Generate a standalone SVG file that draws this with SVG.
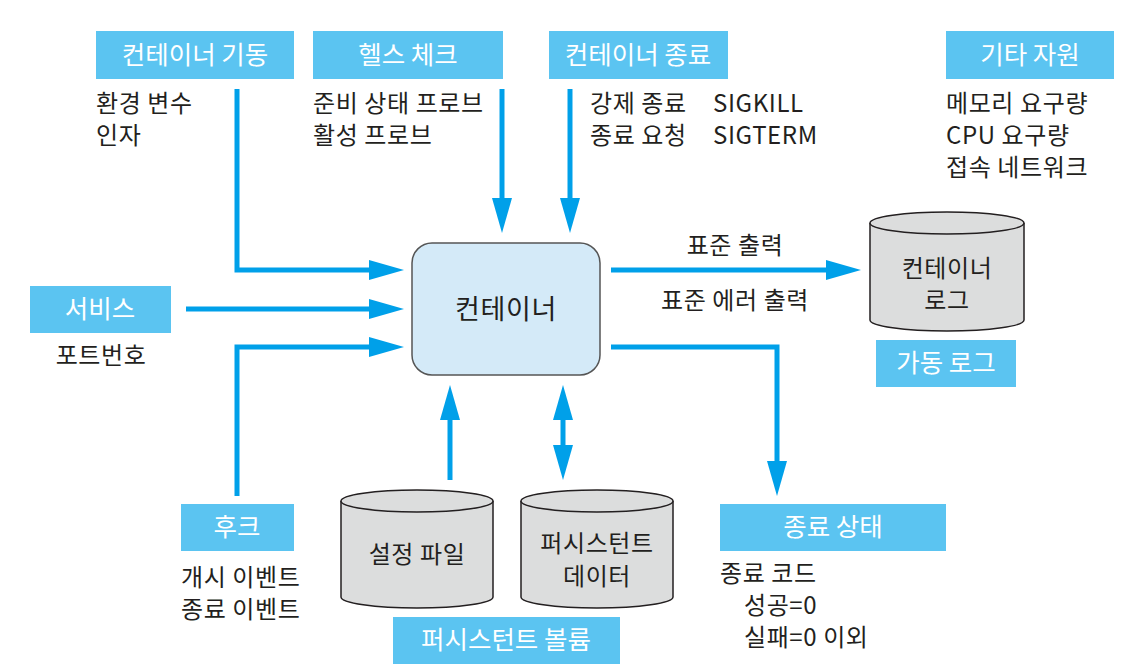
<svg xmlns="http://www.w3.org/2000/svg" width="1134" height="672" viewBox="0 0 1134 672">
  <defs>
    <style>
      .tag { fill: #5bc4f1; }
      .tagtxt { font-family: "Noto Sans CJK KR", "Noto Sans", sans-serif; font-size: 25.5px; fill: #ffffff; text-anchor: middle; }
      .txt { font-family: "Noto Sans CJK KR", "Noto Sans", sans-serif; font-size: 24px; letter-spacing: 0.6px; fill: #231f20; }
      .big { font-size: 27px; }
      .mid { text-anchor: middle; }
      .flow { fill: none; stroke: #00a0e9; stroke-width: 5; }
      .drum { fill: #dcdddd; stroke: #231f20; stroke-width: 1.5; }
    </style>
    <!-- arrowhead: base sits on the line end, tip extends 35px beyond it -->
    <marker id="head" viewBox="0 0 35 20" refX="0" refY="10" markerWidth="35" markerHeight="20" markerUnits="userSpaceOnUse" orient="auto-start-reverse">
      <path d="M0,0 L35,10 L0,20 Z" fill="#00a0e9"/>
    </marker>
  </defs>

  <rect width="1134" height="672" fill="#ffffff"/>

  <!-- connectors -->
  <g id="connectors">
    <path class="flow" d="M237,89 V270 H369" marker-end="url(#head)"/>
    <path class="flow" d="M186,309 H369" marker-end="url(#head)"/>
    <path class="flow" d="M237,496 V347 H369" marker-end="url(#head)"/>
    <path class="flow" d="M502,89 V198" marker-end="url(#head)"/>
    <path class="flow" d="M570,89 V198" marker-end="url(#head)"/>
    <path class="flow" d="M611,270 H826" marker-end="url(#head)"/>
    <path class="flow" d="M611,347 H777 V461" marker-end="url(#head)"/>
    <path class="flow" d="M450,480 V420" marker-end="url(#head)"/>
    <path class="flow" d="M563,445 V420" marker-start="url(#head)" marker-end="url(#head)"/>
  </g>

  <!-- central container -->
  <g id="container">
    <rect x="412" y="243" width="188" height="132" rx="20" fill="#d4eaf8" stroke="#555555" stroke-width="1.5"/>
    <text class="txt mid big" x="506" y="319">컨테이너</text>
  </g>

  <g id="startup">
    <rect class="tag" x="96" y="31" width="198" height="48"/>
    <text class="tagtxt" x="195" y="64">컨테이너 기동</text>
    <text class="txt" x="96" y="112">환경 변수</text>
    <text class="txt" x="96" y="144">인자</text>
  </g>

  <g id="health">
    <rect class="tag" x="313" y="31" width="190" height="48"/>
    <text class="tagtxt" x="408" y="64">헬스 체크</text>
    <text class="txt" x="313" y="112">준비 상태 프로브</text>
    <text class="txt" x="313" y="144">활성 프로브</text>
  </g>

  <g id="shutdown">
    <rect class="tag" x="549" y="31" width="179" height="48"/>
    <text class="tagtxt" x="638" y="64">컨테이너 종료</text>
    <text class="txt" x="590" y="112">강제 종료</text>
    <text class="txt" x="713" y="112">SIGKILL</text>
    <text class="txt" x="590" y="144">종료 요청</text>
    <text class="txt" x="713" y="144">SIGTERM</text>
  </g>

  <g id="resources">
    <rect class="tag" x="946" y="31" width="168" height="48"/>
    <text class="tagtxt" x="1030" y="64">기타 자원</text>
    <text class="txt" x="946" y="112">메모리 요구량</text>
    <text class="txt" x="946" y="144">CPU 요구량</text>
    <text class="txt" x="946" y="176">접속 네트워크</text>
  </g>

  <g id="service">
    <rect class="tag" x="30" y="286" width="141" height="47"/>
    <text class="tagtxt" x="100" y="318">서비스</text>
    <text class="txt mid" x="101" y="364">포트번호</text>
  </g>

  <g id="hook">
    <rect class="tag" x="181" y="504" width="113" height="47"/>
    <text class="tagtxt" x="237" y="536">후크</text>
    <text class="txt" x="181" y="586">개시 이벤트</text>
    <text class="txt" x="181" y="618">종료 이벤트</text>
  </g>

  <g id="container-log">
    <path class="drum" d="M870,223 V320 A77,11 0 0 0 1024,320 V223"/>
    <ellipse class="drum" cx="947" cy="223" rx="77" ry="11"/>
    <text class="txt mid" x="947" y="277">컨테이너</text>
    <text class="txt mid" x="947" y="309">로그</text>
  </g>

  <g id="runtime-log">
    <rect class="tag" x="876" y="340" width="140" height="47"/>
    <text class="tagtxt" x="946" y="372">가동 로그</text>
  </g>

  <g id="config-file">
    <path class="drum" d="M341,501 V597 A76,11 0 0 0 493,597 V501"/>
    <ellipse class="drum" cx="417" cy="501" rx="76" ry="11"/>
    <text class="txt mid" x="417" y="563">설정 파일</text>
  </g>

  <g id="persistent-data">
    <path class="drum" d="M521,501 V597 A76,11 0 0 0 673,597 V501"/>
    <ellipse class="drum" cx="597" cy="501" rx="76" ry="11"/>
    <text class="txt mid" x="597" y="552">퍼시스턴트</text>
    <text class="txt mid" x="597" y="585">데이터</text>
  </g>

  <g id="volume">
    <rect class="tag" x="393" y="617" width="227" height="47"/>
    <text class="tagtxt" x="506" y="649">퍼시스턴트 볼륨</text>
  </g>

  <g id="exit-status">
    <rect class="tag" x="720" y="504" width="226" height="47"/>
    <text class="tagtxt" x="833" y="536">종료 상태</text>
    <text class="txt" x="720" y="582">종료 코드</text>
    <text class="txt" x="744" y="614">성공=0</text>
    <text class="txt" x="744" y="646">실패=0 이외</text>
  </g>

  <g id="stream-labels">
    <text class="txt mid" x="735" y="254">표준 출력</text>
    <text class="txt mid" x="735" y="309">표준 에러 출력</text>
  </g>
</svg>
